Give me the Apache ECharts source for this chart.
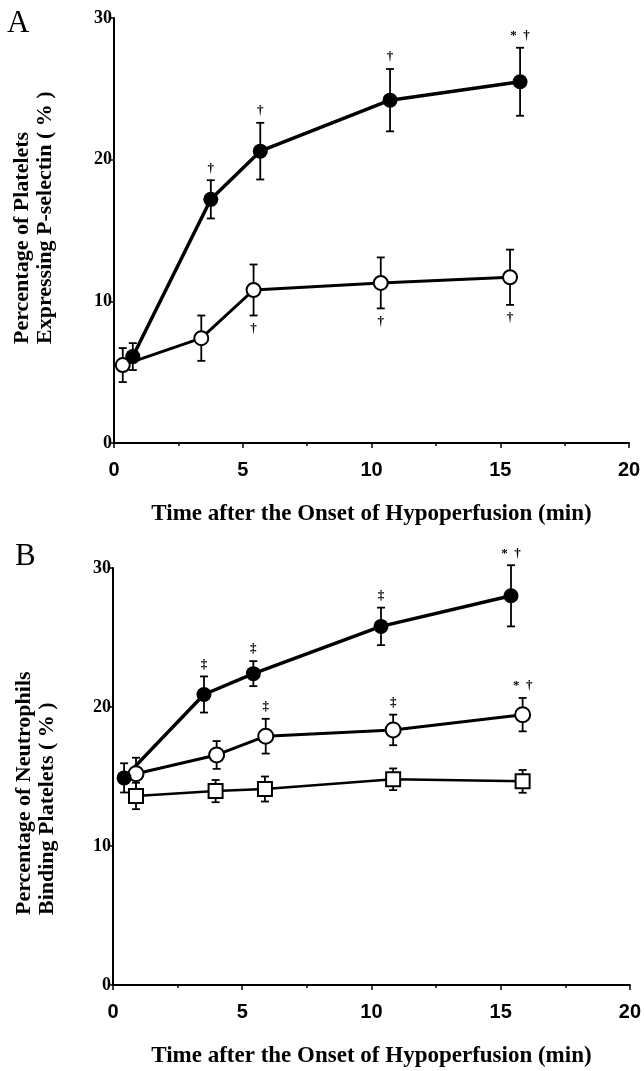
<!DOCTYPE html>
<html>
<head>
<meta charset="utf-8">
<script src="https://cdn.jsdelivr.net/npm/echarts@6/dist/echarts.min.js"></script>
<style>
html, body { margin: 0; padding: 0; background: #fff; }
#chart { width: 644px; height: 1071px; }
</style>
</head>
<body>
<div id="chart"></div>
<script>
// axis ticks (both panels)
const xTicks = [0, 5, 10, 15, 20];
const yTicks = [0, 10, 20, 30];

// panel A - platelets expressing P-selectin
const aFilledX = [0.73, 3.76, 5.68, 10.72, 15.77];
const aFilledY = [6.1, 17.2, 20.6, 24.2, 25.5];
const aFilledErr = [0.95, 1.35, 2.0, 2.2, 2.4];
const aFilledMark = ['', '†', '†', '†', '*  †'];

const aOpenX = [0.34, 3.39, 5.42, 10.36, 15.38];
const aOpenY = [5.5, 7.4, 10.8, 11.3, 11.7];
const aOpenErr = [1.2, 1.6, 1.8, 1.8, 1.95];
const aOpenMark = ['', '', '†', '†', '†'];

// panel B - neutrophils binding platelets
const bFilledX = [0.43, 3.52, 5.43, 10.37, 15.4];
const bFilledY = [14.9, 20.9, 22.4, 25.8, 28.0];
const bFilledErr = [1.05, 1.3, 0.9, 1.35, 2.2];
const bFilledMark = ['', '‡', '‡', '‡', '*  †'];

const bOpenX = [0.89, 4.01, 5.91, 10.84, 15.85];
const bOpenY = [15.2, 16.55, 17.9, 18.35, 19.45];
const bOpenErr = [1.15, 1.0, 1.25, 1.1, 1.2];
const bOpenMark = ['', '', '‡', '‡', '*  †'];

const bSquareX = [0.89, 3.97, 5.88, 10.84, 15.85];
const bSquareY = [13.6, 13.95, 14.1, 14.8, 14.65];
const bSquareErr = [0.95, 0.8, 0.9, 0.78, 0.82];

const xTitle = 'Time after the Onset of Hypoperfusion (min)';

const serif = '"Liberation Serif", "Times New Roman", serif';
const sans = '"Liberation Sans", Arial, sans-serif';

const chart = echarts.init(document.getElementById('chart'));

function pairs(xs, ys) {
  return xs.map((x, i) => [x, ys[i]]);
}

function xAxisFor(gi) {
  return {
    type: 'value', gridIndex: gi,
    min: xTicks[0], max: xTicks[xTicks.length - 1], interval: xTicks[1] - xTicks[0],
    axisLine: { lineStyle: { color: '#000', width: 2 } },
    axisTick: { length: 5, lineStyle: { color: '#000', width: 1.5 } },
    minorTick: { show: true, splitNumber: 2, length: 3, lineStyle: { color: '#000', width: 1.5 } },
    splitLine: { show: false },
    axisLabel: { color: '#000', fontFamily: sans, fontWeight: 'bold', fontSize: 20, margin: 17 },
    name: xTitle, nameLocation: 'middle', nameGap: 60,
    nameTextStyle: { color: '#000', fontFamily: serif, fontWeight: 'bold', fontSize: 23 }
  };
}

function yAxisFor(gi) {
  return {
    type: 'value', gridIndex: gi,
    min: yTicks[0], max: yTicks[yTicks.length - 1], interval: yTicks[1] - yTicks[0],
    axisLine: { show: true, lineStyle: { color: '#000', width: 2 } },
    axisTick: { show: true, length: 3, lineStyle: { color: '#000', width: 1.5 } },
    splitLine: { show: false },
    axisLabel: { color: '#000', fontFamily: serif, fontWeight: 'bold', fontSize: 18, margin: 2 }
  };
}

function lineSeries(gi, xs, ys, symbol, fill, size, width) {
  return {
    type: 'line', xAxisIndex: gi, yAxisIndex: gi, z: 5,
    data: pairs(xs, ys),
    symbol: symbol, symbolSize: size, showSymbol: true,
    lineStyle: { color: '#000', width: width },
    itemStyle: { color: fill, borderColor: '#000', borderWidth: fill === '#000' ? 0 : 2, opacity: 1 },
    emphasis: { disabled: true },
    animation: false
  };
}

function errorSeries(gi, xs, ys, errs) {
  return {
    type: 'custom', xAxisIndex: gi, yAxisIndex: gi, z: 3, silent: true, animation: false,
    data: xs.map((x, i) => [x, ys[i] - errs[i], ys[i] + errs[i]]),
    renderItem: function (params, api) {
      const lo = api.coord([api.value(0), api.value(1)]);
      const hi = api.coord([api.value(0), api.value(2)]);
      const w = 4;
      const st = { stroke: '#000', lineWidth: 1.8 };
      return {
        type: 'group',
        children: [
          { type: 'line', shape: { x1: lo[0], y1: lo[1], x2: hi[0], y2: hi[1] }, style: st },
          { type: 'line', shape: { x1: lo[0] - w, y1: lo[1], x2: lo[0] + w, y2: lo[1] }, style: st },
          { type: 'line', shape: { x1: hi[0] - w, y1: hi[1], x2: hi[0] + w, y2: hi[1] }, style: st }
        ]
      };
    }
  };
}

// significance marks, placed beyond the end of the error bar
function markSeries(gi, xs, ys, errs, marks, below) {
  return {
    type: 'custom', xAxisIndex: gi, yAxisIndex: gi, z: 6, silent: true, animation: false,
    data: xs.map((x, i) => [x, below ? ys[i] - errs[i] : ys[i] + errs[i]]),
    renderItem: function (params, api) {
      const txt = marks[params.dataIndex];
      if (!txt) return null;
      const p = api.coord([api.value(0), api.value(1)]);
      return {
        type: 'text',
        x: p[0], y: below ? p[1] + 13 : p[1] - 12,
        style: {
          text: txt, fill: '#000', font: 'bold 13px ' + serif,
          textAlign: 'center', textVerticalAlign: 'middle'
        }
      };
    }
  };
}

function yTitle(x, yBottom, txt) {
  return {
    type: 'text', x: x, y: yBottom, rotation: Math.PI / 2,
    style: {
      text: txt, fill: '#000', font: 'bold 22px ' + serif,
      textAlign: 'left', textVerticalAlign: 'middle'
    }
  };
}

const option = {
  backgroundColor: '#fff',
  animation: false,
  grid: [
    { left: 114, top: 18, width: 515, height: 425 },
    { left: 113, top: 568, width: 517, height: 417 }
  ],
  xAxis: [xAxisFor(0), xAxisFor(1)],
  yAxis: [yAxisFor(0), yAxisFor(1)],
  graphic: [
    { type: 'text', x: 7, y: 8, style: { text: 'A', fill: '#000', font: '31px ' + serif } },
    { type: 'text', x: 15, y: 541, style: { text: 'B', fill: '#000', font: '31px ' + serif } },
    yTitle(22, 344, 'Percentage of Platelets'),
    yTitle(45, 344, 'Expressing P-selectin ( % )'),
    yTitle(24, 915, 'Percentage of Neutrophils'),
    yTitle(47, 915, 'Binding Platelets ( % )')
  ],
  series: [
    errorSeries(0, aFilledX, aFilledY, aFilledErr),
    errorSeries(0, aOpenX, aOpenY, aOpenErr),
    lineSeries(0, aOpenX, aOpenY, 'circle', '#fff', 14, 3),
    lineSeries(0, aFilledX, aFilledY, 'circle', '#000', 15, 3.5),
    markSeries(0, aFilledX, aFilledY, aFilledErr, aFilledMark, false),
    markSeries(0, aOpenX, aOpenY, aOpenErr, aOpenMark, true),

    errorSeries(1, bFilledX, bFilledY, bFilledErr),
    errorSeries(1, bOpenX, bOpenY, bOpenErr),
    errorSeries(1, bSquareX, bSquareY, bSquareErr),
    lineSeries(1, bSquareX, bSquareY, 'rect', '#fff', 14, 2.5),
    lineSeries(1, bOpenX, bOpenY, 'circle', '#fff', 15, 3),
    lineSeries(1, bFilledX, bFilledY, 'circle', '#000', 15, 3.5),
    markSeries(1, bFilledX, bFilledY, bFilledErr, bFilledMark, false),
    markSeries(1, bOpenX, bOpenY, bOpenErr, bOpenMark, false)
  ]
};

chart.setOption(option);
</script>
</body>
</html>
